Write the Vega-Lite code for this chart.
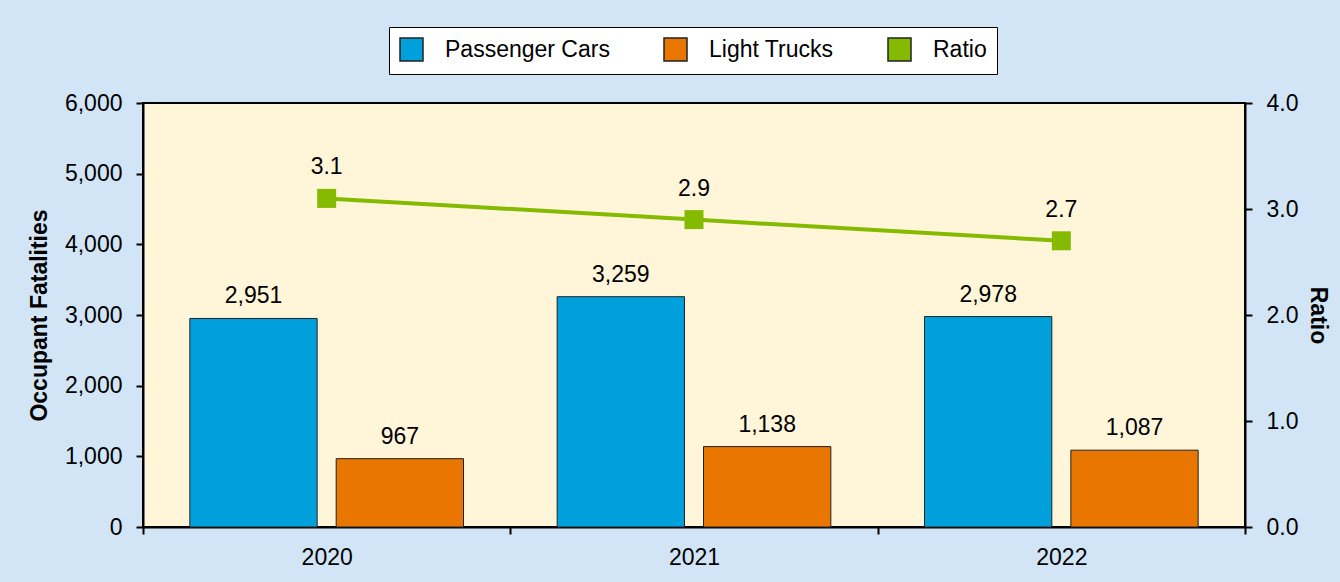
{
  "$schema": "https://vega.github.io/schema/vega-lite/v6.json",
  "autosize": {"type": "none"},
  "width": 1102,
  "height": 424,
  "padding": {"left": 143, "top": 103, "right": 95, "bottom": 55},
  "background": "#D2E5F6",
  "config": {
    "font": "Liberation Sans",
    "view": {"fill": "#FFF5D9", "stroke": "#000000", "strokeWidth": 2},
    "axis": {
      "labelFont": "Liberation Sans",
      "labelFontSize": 23,
      "labelColor": "#000000",
      "titleFont": "Liberation Sans",
      "titleFontSize": 23,
      "titleFontWeight": "bold",
      "titleColor": "#000000",
      "domainColor": "#000000",
      "domainWidth": 2,
      "tickColor": "#000000",
      "tickWidth": 2,
      "tickSize": 7,
      "grid": false
    }
  },
  "data": {
    "values": [
      {"year": "2020", "series": "Passenger Cars", "value": 2951},
      {"year": "2020", "series": "Light Trucks", "value": 967},
      {"year": "2020", "series": "Ratio", "value": 3.1},
      {"year": "2021", "series": "Passenger Cars", "value": 3259},
      {"year": "2021", "series": "Light Trucks", "value": 1138},
      {"year": "2021", "series": "Ratio", "value": 2.9},
      {"year": "2022", "series": "Passenger Cars", "value": 2978},
      {"year": "2022", "series": "Light Trucks", "value": 1087},
      {"year": "2022", "series": "Ratio", "value": 2.7}
    ]
  },
  "encoding": {
    "x": {
      "field": "year",
      "type": "ordinal",
      "scale": {"paddingInner": 0, "paddingOuter": 0},
      "axis": {"title": null, "labelAngle": 0, "tickBand": "extent", "labelPadding": 12}
    }
  },
  "layer": [
    {
      "transform": [{"filter": "datum.series !== 'Ratio'"}],
      "mark": {"type": "bar", "stroke": "#222222", "strokeWidth": 1},
      "encoding": {
        "xOffset": {
          "field": "series",
          "type": "nominal",
          "scale": {"domain": ["Passenger Cars", "Light Trucks"], "paddingInner": 0.13, "paddingOuter": 0.32}
        },
        "y": {
          "field": "value",
          "type": "quantitative",
          "scale": {"domain": [0, 6000], "nice": false},
          "axis": {
            "title": "Occupant Fatalities",
            "values": [0, 1000, 2000, 3000, 4000, 5000, 6000],
            "format": ",d",
            "labelPadding": 14,
            "titlePadding": 13
          }
        },
        "color": {
          "field": "series",
          "type": "nominal",
          "scale": {
            "domain": ["Passenger Cars", "Light Trucks", "Ratio"],
            "range": ["#00A0DC", "#E97600", "#84BB00"]
          },
          "legend": {
            "title": null,
            "orient": "none",
            "legendX": 246,
            "legendY": -76,
            "direction": "horizontal",
            "columns": 3,
            "padding": 10,
            "fillColor": "#FFFFFF",
            "strokeColor": "#000000",
            "labelFont": "Liberation Sans",
            "labelFontSize": 23,
            "labelColor": "#000000",
            "labelOffset": 21,
            "labelLimit": 300,
            "columnPadding": 51,
            "symbolSize": 529,
            "encode": {
              "legend": {"strokeWidth": {"value": 2}},
              "symbols": {
                "shape": {
                  "condition": {"test": "datum.value === 'Ratio'", "value": "M-2.3,0H2.3M-0.8,-0.75H0.8V0.75H-0.8Z"},
                  "value": "M-2.2,-0.65H2.2V0.65H-2.2Z"
                },
                "stroke": {
                  "condition": {"test": "datum.value === 'Ratio'", "value": "#84BB00"},
                  "value": "#222222"
                },
                "strokeWidth": {
                  "condition": {"test": "datum.value === 'Ratio'", "value": 4},
                  "value": 1
                }
              }
            }
          }
        }
      }
    },
    {
      "transform": [{"filter": "datum.series !== 'Ratio'"}],
      "mark": {"type": "text", "fontSize": 23, "font": "Liberation Sans", "color": "#000000", "baseline": "alphabetic", "dy": -15},
      "encoding": {
        "xOffset": {
          "field": "series",
          "type": "nominal",
          "scale": {"domain": ["Passenger Cars", "Light Trucks"], "paddingInner": 0.13, "paddingOuter": 0.32}
        },
        "y": {"field": "value", "type": "quantitative", "scale": {"domain": [0, 6000], "nice": false}, "axis": null},
        "text": {"field": "value", "type": "quantitative", "format": ",d"}
      }
    },
    {
      "transform": [{"filter": "datum.series === 'Ratio'"}],
      "mark": {"type": "line", "color": "#84BB00", "strokeWidth": 4},
      "encoding": {
        "y": {
          "field": "value",
          "type": "quantitative",
          "scale": {"domain": [0, 4], "nice": false},
          "axis": {
            "orient": "right",
            "title": "Ratio",
            "values": [0, 1, 2, 3, 4],
            "format": ".1f",
            "labelPadding": 14,
            "titlePadding": 8
          }
        }
      }
    },
    {
      "transform": [{"filter": "datum.series === 'Ratio'"}],
      "mark": {"type": "point", "shape": "square", "filled": true, "size": 361, "color": "#84BB00", "opacity": 1},
      "encoding": {
        "y": {"field": "value", "type": "quantitative", "scale": {"domain": [0, 4], "nice": false}, "axis": null}
      }
    },
    {
      "transform": [{"filter": "datum.series === 'Ratio'"}],
      "mark": {"type": "text", "fontSize": 23, "font": "Liberation Sans", "color": "#000000", "baseline": "alphabetic", "dy": -24},
      "encoding": {
        "y": {"field": "value", "type": "quantitative", "scale": {"domain": [0, 4], "nice": false}, "axis": null},
        "text": {"field": "value", "type": "quantitative", "format": ".1f"}
      }
    }
  ],
  "resolve": {"scale": {"y": "independent"}}
}
